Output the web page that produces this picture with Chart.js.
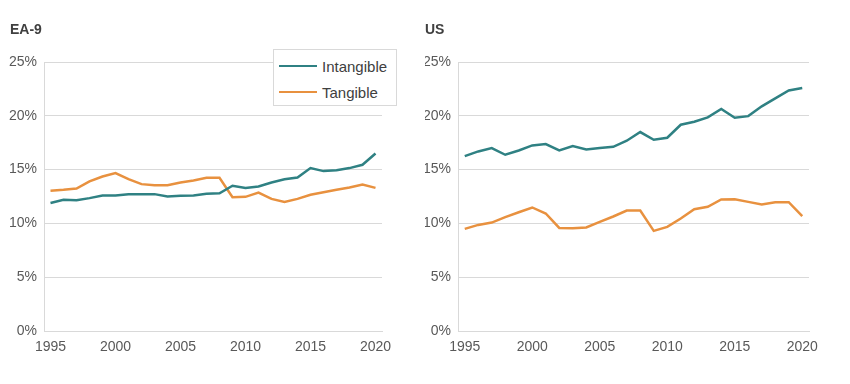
<!DOCTYPE html>
<html>
<head>
<meta charset="utf-8">
<script src="https://cdn.jsdelivr.net/npm/chart.js@4"></script>
<style>
  html, body { margin: 0; padding: 0; background: #fff; }
  #wrap { position: relative; width: 850px; height: 384px; overflow: hidden; }
  canvas { position: absolute; top: 0; }
  .title { position: absolute; top: 21px; font: bold 14px "Liberation Sans", Arial, sans-serif; color: #404040; }
  #legend {
    position: absolute; left: 273px; top: 49px; width: 124px; height: 57px;
    border: 1.5px solid #d9d9d9; background: #fff; box-sizing: border-box;
    font: 15px "Liberation Sans", Arial, sans-serif; color: #404040;
  }
  #legend .item { position: absolute; left: 5px; height: 18px; display: flex; align-items: center; }
  #legend .swatch { width: 38px; height: 2.5px; margin-right: 5px; }
</style>
</head>
<body>
<div id="wrap">
  <canvas id="chartEA" width="425" height="384" style="left:0"></canvas>
  <canvas id="chartUS" width="425" height="384" style="left:425px"></canvas>
  <div class="title" style="left:10px">EA-9</div>
  <div class="title" style="left:425px">US</div>
  <div id="legend"></div>
</div>
<script>
// ---------------------------------------------------------------------------
// DATA (share of investment, %)
// ---------------------------------------------------------------------------

const YEARS = [1995, 1996, 1997, 1998, 1999, 2000, 2001, 2002, 2003, 2004, 2005, 2006, 2007,
  2008, 2009, 2010, 2011, 2012, 2013, 2014, 2015, 2016, 2017, 2018, 2019, 2020]
const SERIES_NAMES = ['Intangible', 'Tangible']
const Y_TICKS = [0, 5, 10, 15, 20, 25]

const EA_INTANGIBLE = [11.9, 12.2, 12.15, 12.35, 12.6, 12.6, 12.7, 12.72, 12.72, 12.5, 12.56, 12.6, 12.75,
  12.8, 13.5, 13.3, 13.43, 13.8, 14.1, 14.27, 15.14, 14.86, 14.95, 15.14, 15.45, 16.5]
const EA_TANGIBLE = [13.03, 13.12, 13.24, 13.9, 14.36, 14.67, 14.11, 13.65, 13.55, 13.55, 13.8, 13.99, 14.24,
  14.24, 12.44, 12.47, 12.87, 12.28, 12.0, 12.28, 12.66, 12.9, 13.12, 13.34, 13.62, 13.3]

const US_INTANGIBLE = [16.25, 16.69, 17.0, 16.38, 16.78, 17.25, 17.37, 16.78, 17.18, 16.87, 17.0, 17.12, 17.68,
  18.49, 17.77, 17.96, 19.17, 19.45, 19.85, 20.63, 19.82, 19.97, 20.88, 21.62, 22.36, 22.58]
const US_TANGIBLE = [9.49, 9.86, 10.08, 10.58, 11.04, 11.48, 10.92, 9.58, 9.55, 9.62, 10.14, 10.64, 11.2,
  11.2, 9.31, 9.68, 10.45, 11.32, 11.54, 12.22, 12.25, 12.0, 11.76, 11.97, 11.97, 10.67]

// ---------------------------------------------------------------------------
// STYLE
// ---------------------------------------------------------------------------

const COLORS = ['#2F8183', '#E8913F']
const GRID = '#d9d9d9'
const TEXT = '#595959'
const FONT = '"Liberation Sans", Arial, sans-serif'

function makeChart(canvasId, seriesData, axisWidth, padRight) {
  const datasets = seriesData.map((data, i) => ({
    label: SERIES_NAMES[i],
    data: data,
    borderColor: COLORS[i],
    backgroundColor: COLORS[i],
    borderWidth: 2.5,
    pointRadius: 0,
    tension: 0,
    fill: false,
  }))

  return new Chart(document.getElementById(canvasId), {
    type: 'line',
    data: { labels: YEARS.map(String), datasets },
    options: {
      responsive: false,
      animation: false,
      layout: { padding: { top: 62, right: padRight, bottom: 0, left: 0 } },
      plugins: { legend: { display: false }, tooltip: { enabled: false } },
      scales: {
        x: {
          offset: true,
          grid: { display: false, drawTicks: false },
          border: { display: true, color: GRID, width: 1 },
          ticks: {
            autoSkip: false,
            maxRotation: 0,
            padding: 8,
            color: TEXT,
            font: { family: FONT, size: 14 },
            callback: function (v, idx) {
              const y = YEARS[idx]
              return y % 5 === 0 ? String(y) : null
            },
          },
          afterFit: s => { s.height = 53 },
        },
        y: {
          min: 0,
          max: 25,
          afterBuildTicks: s => { s.ticks = Y_TICKS.map(v => ({ value: v })) },
          grid: { color: GRID, lineWidth: 1, drawTicks: false },
          border: { display: true, color: GRID, width: 1 },
          ticks: {
            padding: 7,
            color: TEXT,
            font: { family: FONT, size: 14 },
            callback: v => v + '%',
          },
          afterFit: s => { s.width = axisWidth },
        },
      },
    },
  })
}

makeChart('chartEA', [EA_INTANGIBLE, EA_TANGIBLE], 44, 43)
makeChart('chartUS', [US_INTANGIBLE, US_TANGIBLE], 33, 41)

// legend (boxed, EA-9 panel)
const legend = document.getElementById('legend')
SERIES_NAMES.forEach((name, i) => {
  const item = document.createElement('div')
  item.className = 'item'
  item.style.top = (i === 0 ? 7 : 33) + 'px'
  item.innerHTML = '<span class="swatch" style="background:' + COLORS[i] + '"></span><span>' + name + '</span>'
  legend.appendChild(item)
})
</script>
</body>
</html>
